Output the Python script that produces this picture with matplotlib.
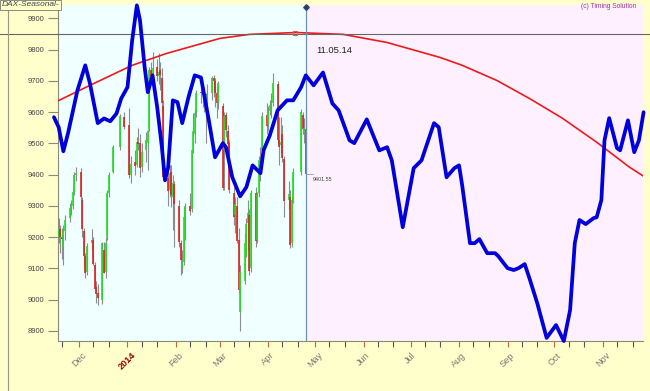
import matplotlib
matplotlib.use("Agg")
import matplotlib.pyplot as plt
import matplotlib.dates as mdates
from matplotlib.lines import Line2D
import pandas as pd

plt.rcParams['font.family'] = ['Liberation Sans', 'DejaVu Sans']

# seasonal projection (blue curve)
blue_dates = [
    "2013-11-15", "2013-11-18", "2013-11-21", "2013-11-24", "2013-11-30",
    "2013-12-05", "2013-12-08", "2013-12-13", "2013-12-17", "2013-12-21",
    "2013-12-25", "2013-12-28", "2014-01-01", "2014-01-04", "2014-01-07",
    "2014-01-09", "2014-01-12", "2014-01-14", "2014-01-17", "2014-01-20",
    "2014-01-23", "2014-01-25", "2014-01-27", "2014-01-30", "2014-02-02",
    "2014-02-05", "2014-02-09", "2014-02-13", "2014-02-17", "2014-02-22",
    "2014-02-26", "2014-03-03", "2014-03-05", "2014-03-09", "2014-03-14",
    "2014-03-18", "2014-03-22", "2014-03-27", "2014-03-29", "2014-04-02",
    "2014-04-07", "2014-04-13", "2014-04-17", "2014-04-22", "2014-04-25",
    "2014-04-30", "2014-05-06", "2014-05-12", "2014-05-16", "2014-05-23",
    "2014-05-26", "2014-06-03", "2014-06-11", "2014-06-16", "2014-06-19",
    "2014-06-26", "2014-07-03", "2014-07-08", "2014-07-16", "2014-07-19",
    "2014-07-24", "2014-07-29", "2014-08-01", "2014-08-03", "2014-08-08",
    "2014-08-11", "2014-08-14", "2014-08-19", "2014-08-24", "2014-08-26",
    "2014-09-01", "2014-09-05", "2014-09-08", "2014-09-12", "2014-09-15",
    "2014-09-20", "2014-09-26", "2014-10-02", "2014-10-07", "2014-10-11",
    "2014-10-14", "2014-10-17", "2014-10-21", "2014-10-26", "2014-10-28",
    "2014-10-31", "2014-11-02", "2014-11-05", "2014-11-10", "2014-11-12",
    "2014-11-17", "2014-11-21", "2014-11-24", "2014-11-27",
]
blue_vals = [
    9584, 9552, 9475, 9533, 9670,
    9750, 9692, 9565, 9580, 9571,
    9596, 9644, 9680, 9830, 9942,
    9894, 9743, 9664, 9718, 9616,
    9488, 9382, 9424, 9638, 9632,
    9565, 9648, 9718, 9711, 9574,
    9456, 9501, 9488, 9392, 9331,
    9360, 9430, 9405, 9478, 9526,
    9606, 9638, 9638, 9680, 9718,
    9686, 9727, 9628, 9606, 9510,
    9501, 9577, 9478, 9488, 9446,
    9232, 9421, 9446, 9565, 9552,
    9392, 9421, 9430, 9366, 9181,
    9181, 9194, 9149, 9149, 9140,
    9101, 9095, 9101, 9114, 9069,
    8989, 8878, 8919, 8868, 8967,
    9181, 9255, 9242, 9261, 9264,
    9319, 9510, 9581, 9485, 9478,
    9574, 9472, 9510, 9600,
]

# long-term arc (red curve)
trend_dates = [
    "2013-11-17", "2013-12-08", "2014-01-04", "2014-01-26", "2014-03-01",
    "2014-03-20", "2014-04-19", "2014-05-19", "2014-06-16", "2014-07-20",
    "2014-08-03", "2014-08-25", "2014-09-15", "2014-10-06", "2014-10-28",
    "2014-11-18", "2014-11-28",
]
trend_vals = [
    9635, 9686, 9750, 9788, 9836,
    9849, 9855, 9849, 9823, 9775,
    9750, 9702, 9644, 9581, 9504,
    9424, 9392,
]

# daily DAX bars
bar_dates = [
    "2013-11-18", "2013-11-19", "2013-11-20", "2013-11-21", "2013-11-22",
    "2013-11-25", "2013-11-26", "2013-11-27", "2013-11-28", "2013-11-29",
    "2013-12-02", "2013-12-03", "2013-12-04", "2013-12-05", "2013-12-06",
    "2013-12-09", "2013-12-10", "2013-12-11", "2013-12-12", "2013-12-13",
    "2013-12-16", "2013-12-17", "2013-12-18", "2013-12-19", "2013-12-20",
    "2013-12-23", "2013-12-27", "2013-12-30",
    "2014-01-02", "2014-01-03",
    "2014-01-06", "2014-01-07", "2014-01-08", "2014-01-09", "2014-01-10",
    "2014-01-13", "2014-01-14", "2014-01-15", "2014-01-16", "2014-01-17",
    "2014-01-20", "2014-01-21", "2014-01-22", "2014-01-23", "2014-01-24",
    "2014-01-27", "2014-01-28", "2014-01-29", "2014-01-30", "2014-01-31",
    "2014-02-03", "2014-02-04", "2014-02-05", "2014-02-06", "2014-02-07",
    "2014-02-10", "2014-02-11", "2014-02-12", "2014-02-13", "2014-02-14",
    "2014-02-17", "2014-02-18", "2014-02-19", "2014-02-20", "2014-02-21",
    "2014-02-24", "2014-02-25", "2014-02-26", "2014-02-27", "2014-02-28",
    "2014-03-03", "2014-03-04", "2014-03-05", "2014-03-06", "2014-03-07",
    "2014-03-10", "2014-03-11", "2014-03-12", "2014-03-13", "2014-03-14",
    "2014-03-17", "2014-03-18", "2014-03-19", "2014-03-20", "2014-03-21",
    "2014-03-24", "2014-03-25", "2014-03-26", "2014-03-27", "2014-03-28",
    "2014-03-31", "2014-04-01", "2014-04-02", "2014-04-03", "2014-04-04",
    "2014-04-07", "2014-04-08", "2014-04-09", "2014-04-10", "2014-04-11",
    "2014-04-14", "2014-04-15", "2014-04-16", "2014-04-17",
    "2014-04-22", "2014-04-23", "2014-04-24", "2014-04-25",
]
bar_open = [
    9200, 9225, 9200, 9170, 9220,
    9260, 9295, 9300, 9345, 9400,
    9410, 9320, 9220, 9140, 9090,
    9180, 9190, 9110, 9040, 9020,
    9000, 9160, 9090, 9200, 9340,
    9410, 9490, 9585,
    9560, 9400,
    9440, 9430, 9505, 9500, 9425,
    9480, 9500, 9545, 9735, 9720,
    9745, 9715, 9735, 9710, 9620,
    9390, 9350, 9410, 9330, 9370,
    9300, 9180, 9100, 9120, 9200,
    9300, 9290, 9480, 9530, 9600,
    9665, 9660, 9660, 9650, 9620,
    9660, 9710, 9700, 9660, 9630,
    9620, 9480, 9590, 9540, 9500,
    9340, 9270, 9300, 9190, 8960,
    9060, 9140, 9245, 9270, 9100,
    9340, 9190, 9340, 9440, 9480,
    9590, 9560, 9605, 9625, 9630,
    9690, 9510, 9495, 9530, 9450,
    9320, 9330, 9180, 9320,
    9410, 9590, 9540, 9545,
]
bar_high = [
    9260, 9240, 9230, 9240, 9270,
    9310, 9320, 9360, 9410, 9425,
    9420, 9330, 9230, 9150, 9180,
    9225, 9200, 9120, 9060, 9050,
    9185, 9185, 9200, 9350, 9410,
    9495, 9594, 9600,
    9615, 9460,
    9480, 9520, 9548, 9530, 9500,
    9536, 9545, 9745, 9760, 9794,
    9770, 9790, 9760, 9743, 9638,
    9424, 9430, 9430, 9400, 9380,
    9320, 9190, 9160, 9296, 9310,
    9340, 9480, 9596, 9610, 9670,
    9680, 9680, 9680, 9660, 9690,
    9715, 9720, 9710, 9680, 9700,
    9630, 9600, 9600, 9560, 9510,
    9360, 9330, 9328, 9230, 9110,
    9215, 9260, 9320, 9290, 9350,
    9360, 9345, 9460, 9490, 9600,
    9628, 9620, 9640, 9660, 9724,
    9700, 9584, 9584, 9560, 9460,
    9380, 9350, 9330, 9420,
    9610, 9600, 9580, 9610,
]
bar_low = [
    9180, 9150, 9130, 9110, 9190,
    9250, 9270, 9290, 9335, 9380,
    9320, 9200, 9105, 9070, 9080,
    9160, 9110, 9030, 8990, 8983,
    8985, 9085, 9070, 9190, 9330,
    9405, 9480, 9545,
    9390, 9373,
    9400, 9424, 9480, 9392, 9410,
    9440, 9414, 9540, 9700, 9705,
    9700, 9690, 9670, 9596, 9390,
    9300, 9330, 9296, 9223, 9168,
    9170, 9080, 9085, 9110, 9191,
    9270, 9280, 9470, 9500, 9584,
    9630, 9616, 9600, 9500, 9610,
    9640, 9650, 9616, 9580, 9610,
    9350, 9350, 9520, 9450, 9340,
    9240, 9213, 9180, 9020, 8900,
    9050, 9136, 9159, 9080, 9090,
    9170, 9180, 9330, 9380, 9440,
    9530, 9540, 9590, 9580, 9620,
    9500, 9430, 9470, 9440, 9264,
    9290, 9165, 9170, 9310,
    9400, 9530, 9500, 9395,
]
bar_close = [
    9225, 9200, 9193, 9220, 9255,
    9295, 9299, 9345, 9400, 9405,
    9330, 9225, 9140, 9084, 9172,
    9191, 9114, 9034, 9017, 9006,
    9180, 9085, 9181, 9340, 9400,
    9488, 9589, 9552,
    9400, 9435,
    9428, 9506, 9497, 9421, 9473,
    9510, 9540, 9734, 9717, 9742,
    9716, 9730, 9720, 9631, 9392,
    9349, 9406, 9336, 9374, 9306,
    9186, 9128, 9116, 9265, 9301,
    9285, 9478, 9540, 9597, 9662,
    9660, 9659, 9660, 9618, 9656,
    9708, 9699, 9661, 9630, 9692,
    9358, 9589, 9542, 9498, 9350,
    9265, 9307, 9188, 9030, 9090,
    9180, 9242, 9277, 9093, 9342,
    9189, 9338, 9448, 9451, 9587,
    9556, 9603, 9623, 9629, 9695,
    9510, 9490, 9506, 9455, 9315,
    9339, 9174, 9318, 9409,
    9600, 9545, 9548, 9401,
]

month_labels = ["Dec", "2014", "Feb", "Mar", "Apr", "May", "Jun",
                "Jul", "Aug", "Sep", "Oct", "Nov"]
y_ticks = [8900, 9000, 9100, 9200, 9300, 9400, 9500, 9600, 9700, 9800, 9900]

split_date = "2014-04-25"
level_line = 9849
last_close_text = "9401.55"
cursor_label = "11.05.14"


def dnum(s):
    return mdates.date2num(pd.to_datetime(s))


# figure
W, H = 650, 391
fig = plt.figure(figsize=(W / 100, H / 100), dpi=100, facecolor="#FFFFCC")
ax = fig.add_axes([58 / W, 1 - 341 / H, 585 / W, 336 / H])
ax.set_facecolor("#F0FFFF")

ref = dnum("2013-12-01")
px_day = 1.564
x0 = ref + (58 - 79) / px_day
x1 = ref + (643 - 79) / px_day
ax.set_xlim(x0, x1)
ax.set_ylim(8868, 9943)

xs = dnum(split_date)
ax.axvspan(xs, x1, color="#FFF0FF", zorder=0, lw=0)

# price bars
for d, o, h, l, c in zip(bar_dates, bar_open, bar_high, bar_low, bar_close):
    x = dnum(d)
    ax.vlines(x, l, h, color="#8c8c8c", lw=0.8, zorder=2)
    col = "#22dd22" if c >= o else "#dd2222"
    ax.vlines(x, min(o, c), max(o, c), color=col, lw=1.2, zorder=3)

# curves
ax.plot([dnum(d) for d in trend_dates], trend_vals, color="#ee1a1a", lw=1.2, zorder=4)
ax.plot([dnum(d) for d in blue_dates], blue_vals, color="#0000dd", lw=2.7,
        solid_joinstyle="round", solid_capstyle="round", clip_on=False, zorder=6)

# level line and split line
ax.axhline(level_line, xmin=-58 / 585, xmax=(650 - 58) / 585, color="#666666",
           lw=0.8, clip_on=False, zorder=5)
ax.axvline(xs, color="#6e90b0", lw=0.9, zorder=5)
ax.plot(xs, 9936, marker="D", ms=2.8, color="#2c3d70", clip_on=False, zorder=7)
ax.plot(dnum("2014-04-18"), 9855, marker="s", ms=3.2, mfc="none", mec="#c86450",
        mew=0.8, zorder=7)

# annotations
ax.text(dnum("2014-05-02"), 9798, cursor_label, fontsize=6.8, color="#222222",
        va="center", ha="left")
ax.plot([xs, xs + 4.5], [9401, 9401], color="#999999", lw=0.6, zorder=5)
ax.text(xs + 4.5, 9385, last_close_text, fontsize=3.9, color="#444444",
        va="center", ha="left")

# axes styling
for s in ["top", "right"]:
    ax.spines[s].set_visible(False)
for s in ["left", "bottom"]:
    ax.spines[s].set_color("#8a8a78")
    ax.spines[s].set_linewidth(0.8)

ax.set_yticks(y_ticks)
ax.set_yticklabels([str(v) for v in y_ticks])
ax.tick_params(axis="y", length=7.5, width=0.8, color="#8a8a78", pad=2.5,
               labelsize=5.5, labelcolor="#444444")

month_pos = [dnum(d) for d in pd.date_range("2013-12-01", "2014-11-01", freq="MS")]
ax.set_xticks(month_pos)
ax.set_xticklabels(month_labels, rotation=45, ha="center")
ax.xaxis.set_minor_locator(mdates.DayLocator(bymonthday=[10, 20]))
ax.tick_params(axis="x", which="major", length=4, width=0.8, color="#c8643c",
               pad=3, labelsize=6.6, labelcolor="#777777")
ax.tick_params(axis="x", which="minor", length=4, width=0.8, color="#555555")
for lab in ax.get_xticklabels():
    if lab.get_text() == "2014":
        lab.set_color("#990000")
        lab.set_fontweight("bold")

# panel decorations
fig.add_artist(Line2D([8 / W, 8 / W], [0, 1 - 10 / H], transform=fig.transFigure,
                      color="#9a9a80", lw=0.8))
fig.text(1.5 / W, 1 - 5 / H, "DAX-Seasonal-", fontsize=6, style="italic",
         color="#444444", va="center", ha="left",
         bbox=dict(boxstyle="square,pad=0.2", fc="#FFFFCC", ec="#777777", lw=0.6))
fig.text(636 / W, 1 - 7 / H, "(c) Timing Solution", fontsize=4.8, color="#993399",
         va="center", ha="right")

fig.savefig("out.png", dpi=100, facecolor=fig.get_facecolor())
